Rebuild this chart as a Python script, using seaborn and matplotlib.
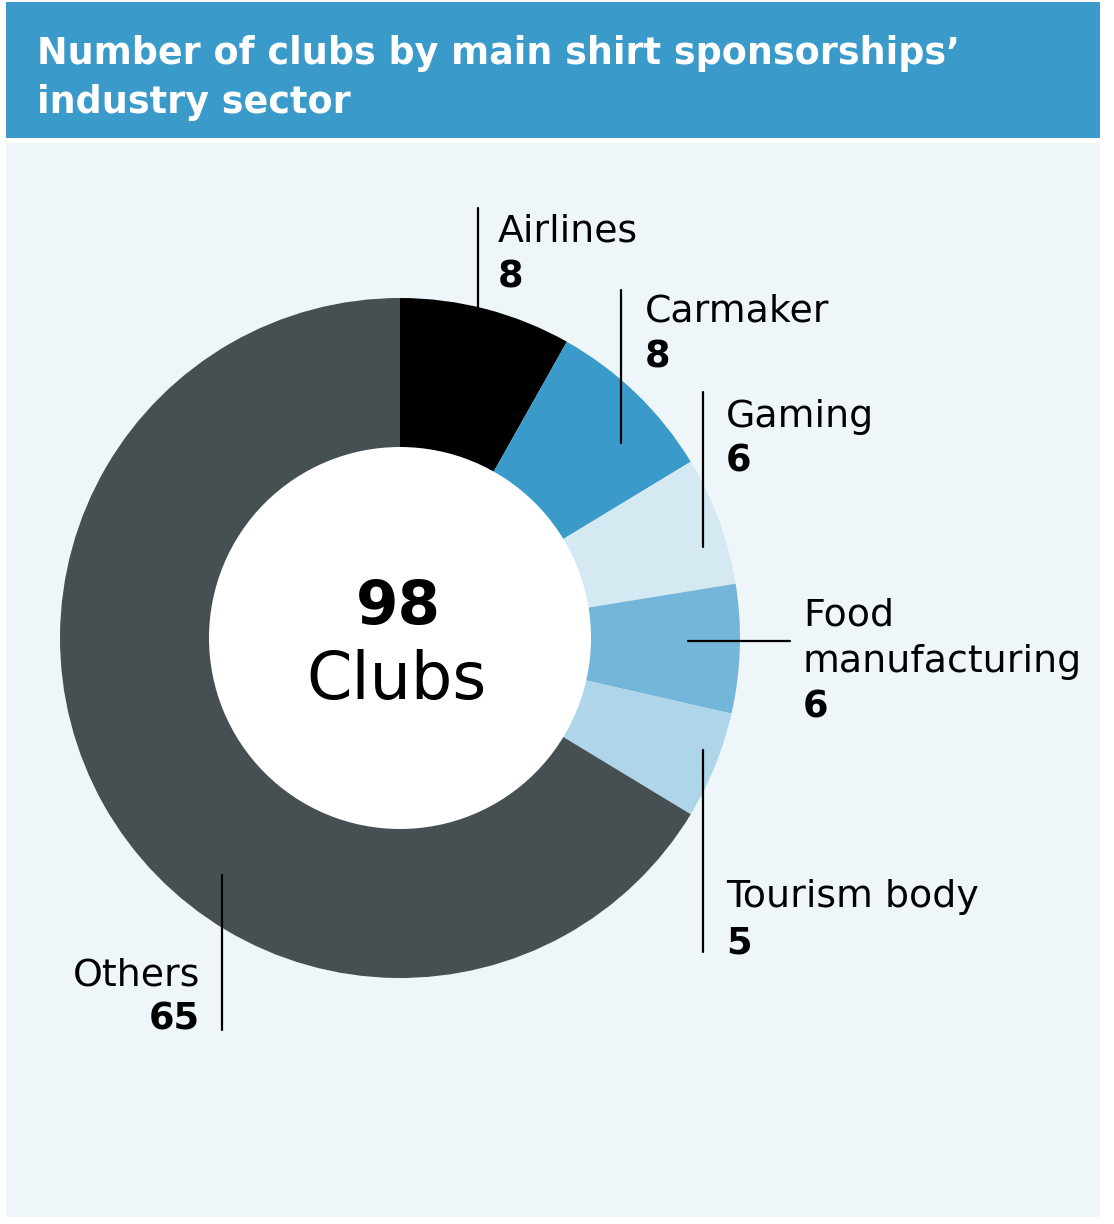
import matplotlib
matplotlib.use("Agg")
import matplotlib.pyplot as plt
import seaborn as sns
from matplotlib.patches import Rectangle, Circle

# ---- data ----
categories = ["Airlines", "Carmaker", "Gaming", "Food\nmanufacturing", "Tourism body", "Others"]
values = [8, 8, 6, 6, 5, 65]
total_label = "98"
center_word = "Clubs"
title = "Number of clubs by main shirt sponsorships’\nindustry sector"

# ---- style ----
sns.set_theme(style="white")
FONT = ["DejaVu Sans"]
plt.rcParams["font.family"] = FONT

colors = ["#000000", "#3a9bcb", "#d5e9f3", "#74b6da", "#afd5ea", "#465053"]
W, H = 1114, 1224
fig = plt.figure(figsize=(W / 100, H / 100), dpi=100)
fig.patch.set_facecolor("white")
ax = fig.add_axes([0, 0, 1, 1])


def Y(py):
    return H - py


# backgrounds
ax.add_patch(Rectangle((6, Y(138)), 1094, 136, facecolor="#3a9bcb", edgecolor="none", zorder=0))
ax.add_patch(Rectangle((6, Y(1217)), 1094, 1074, facecolor="#eef6fa", edgecolor="none", zorder=0))

title_lines = title.split("\n")
ax.text(37, Y(64), title_lines[0], color="white",
        fontsize=26.3, fontweight="bold", va="baseline", ha="left")
ax.text(37, Y(113), title_lines[1], color="white",
        fontsize=26.3, fontweight="bold", va="baseline", ha="left")

cx, cy, R, r = 400, 638, 340, 191
wedges, _ = ax.pie(values, colors=colors, startangle=90, counterclock=False,
                   center=(cx, Y(cy)), radius=R, frame=True,
                   wedgeprops=dict(linewidth=0, edgecolor="none"))
for w in wedges:
    w.set_zorder(2)
ax.add_patch(Circle((cx, Y(cy)), r, facecolor="white", edgecolor="none", zorder=3))

ax.text(cx - 2, Y(624), total_label, fontsize=44, fontweight="bold", ha="center", va="baseline", color="black", zorder=4)
ax.text(cx - 3, Y(699), center_word, fontsize=47, fontweight="normal", ha="center", va="baseline", color="black", zorder=4)

# leader lines
line_kw = dict(color="black", lw=1.6, zorder=5)
ax.plot([478, 478], [Y(208), Y(310)], **line_kw)
ax.plot([621, 621], [Y(290), Y(443)], **line_kw)
ax.plot([703, 703], [Y(392), Y(547)], **line_kw)
ax.plot([688, 790], [Y(641), Y(641)], **line_kw)
ax.plot([703, 703], [Y(750), Y(952)], **line_kw)
ax.plot([222, 222], [Y(875), Y(1030)], **line_kw)

# labels
lab_fs, num_fs = 27.3, 26.5
label_pos = [
    (498, 242, 45, "left"),
    (645, 322, 45, "left"),
    (726, 427, 45, "left"),
    (803, 626, 46, "left"),
    (726, 907, 46, "left"),
    (200, 985, 45, "right"),
]
for cat, val, (x, yb, step, ha) in zip(categories, values, label_pos):
    lines = cat.split("\n")
    for i, ln in enumerate(lines):
        ax.text(x, Y(yb + i * step), ln, fontsize=lab_fs, ha=ha, va="baseline", color="black", zorder=5)
    ax.text(x, Y(yb + len(lines) * step), str(val), fontsize=num_fs, fontweight="bold",
            ha=ha, va="baseline", color="black", zorder=5)

ax.set_xlim(0, W)
ax.set_ylim(0, H)
ax.set_aspect("equal")
ax.axis("off")

fig.savefig("out.png", dpi=100, facecolor="white")
